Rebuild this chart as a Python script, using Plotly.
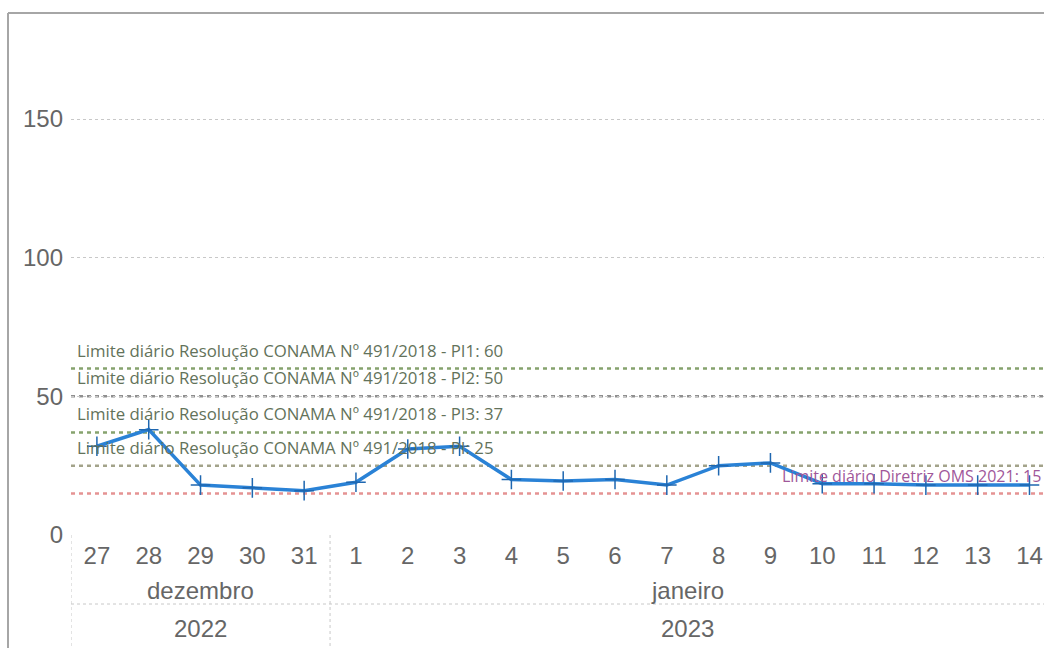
import plotly.graph_objects as go

days = ["27", "28", "29", "30", "31", "1", "2", "3", "4", "5", "6", "7",
        "8", "9", "10", "11", "12", "13", "14"]
months = ["dezembro"] * 5 + ["janeiro"] * 14
years = ["2022"] * 5 + ["2023"] * 14
values = [32, 38, 18, 17, 16, 19, 31, 32, 20, 19.5, 20, 18, 25, 26,
          18.5, 18.5, 18, 18, 18]

ref_values = [60, 50, 37, 25, 15]
ref_colors = ["#86a36e", "#8f8f8f", "#86a36e", "#a3a38a", "#e59393"]
ref_label_colors = ["#63725a", "#63725a", "#63725a", "#63725a", "#a0579a"]
ref_label_side = ["left", "left", "left", "left", "right"]
ref_label_size = [16.8, 16.8, 16.8, 16.8, 16.0]
ref_label_text = ["Limite diário Resolução CONAMA Nº 491/2018 - PI1: 60",
                  "Limite diário Resolução CONAMA Nº 491/2018 - PI2: 50",
                  "Limite diário Resolução CONAMA Nº 491/2018 - PI3: 37",
                  "Limite diário Resolução CONAMA Nº 491/2018 - PI: 25",
                  "Limite diário Diretriz OMS 2021: 15"]

y_ticks = [0, 50, 100, 150]

x_idx = list(range(len(days)))
x_lo, x_hi = -0.5, 18.28
y_lo, y_hi = 0, 185

W, H = 1044, 648
ml, mr, mt, mb = 71, 0, 22, 113
ph = H - mt - mb

def py(pix):
    return (H - mb - pix) / ph

def px(pix):
    return (pix - ml) / (W - ml - mr)

AX_FONT = "Liberation Sans, Arial"
AX_SIZE = 24
AX_COL = "#666666"

fig = go.Figure()

fig.add_trace(go.Scatter(
    x=x_idx, y=values, mode="lines+markers",
    line=dict(color="#2a82d6", width=3.5),
    marker=dict(symbol="cross-thin", size=14,
                line=dict(color="#1f67b0", width=1.5), color="#1f67b0"),
    showlegend=False, hoverinfo="y"))

shapes = []
annotations = []
for v, c, lc, side, sz, txt in zip(ref_values, ref_colors, ref_label_colors,
                                   ref_label_side, ref_label_size, ref_label_text):
    shapes.append(dict(type="line", xref="x", yref="y", x0=x_lo, x1=x_hi,
                       y0=v, y1=v, layer="below",
                       line=dict(color=c, width=2.5, dash="4px,4px")))
    if side == "left":
        annotations.append(dict(xref="x", yref="y", x=x_lo, y=v, text=txt,
                                xanchor="left", yanchor="bottom", xshift=4,
                                yshift=5, showarrow=False,
                                font=dict(family="Open Sans", size=sz, color=lc)))
    else:
        annotations.append(dict(xref="x", yref="y", x=x_hi, y=v, text=txt,
                                xanchor="right", yanchor="bottom", xshift=-1,
                                yshift=4, showarrow=False,
                                font=dict(family="Open Sans", size=sz, color=lc)))

# Hierarchical axis: month and year levels
grid_col = "#c8c8c8"
sep_idx = [i for i in range(1, len(days)) if months[i] != months[i - 1]]
for b in [x_lo] + [i - 0.5 for i in sep_idx]:
    shapes.append(dict(type="line", xref="x", yref="paper", x0=b, x1=b,
                       y0=0, y1=py(H + 5), line=dict(color=grid_col, width=1, dash="dot")))
shapes.append(dict(type="line", xref="x", yref="paper", x0=x_lo, x1=x_hi,
                   y0=py(604), y1=py(604), line=dict(color=grid_col, width=1, dash="dot")))

groups_m = []
start = 0
for i in range(1, len(days) + 1):
    if i == len(days) or months[i] != months[start]:
        groups_m.append((start, i - 1, months[start], years[start]))
        start = i
for a, b, m, yv in groups_m:
    left = max(a - 0.5, x_lo)
    right = min(b + 0.5, x_hi)
    cx = (left + right) / 2
    annotations.append(dict(xref="x", yref="paper", x=cx, y=py(590), text=m,
                            showarrow=False, xanchor="center", yanchor="middle",
                            font=dict(family=AX_FONT, size=AX_SIZE, color=AX_COL)))
    annotations.append(dict(xref="x", yref="paper", x=cx, y=py(628), text=yv,
                            showarrow=False, xanchor="center", yanchor="middle",
                            font=dict(family=AX_FONT, size=AX_SIZE, color=AX_COL)))

# outer frame (visual container border)
shapes.append(dict(type="line", xref="paper", yref="paper",
                   x0=px(8), x1=px(8), y0=py(13), y1=py(H + 5),
                   line=dict(color="#a6a6a6", width=2)))
shapes.append(dict(type="line", xref="paper", yref="paper",
                   x0=px(8), x1=px(W + 5), y0=py(13), y1=py(13),
                   line=dict(color="#a6a6a6", width=2)))

fig.update_layout(
    width=W, height=H,
    margin=dict(l=ml, r=mr, t=mt, b=mb),
    paper_bgcolor="white", plot_bgcolor="white",
    shapes=shapes, annotations=annotations,
    xaxis=dict(range=[x_lo, x_hi], tickmode="array", tickvals=x_idx,
               ticktext=days, showgrid=False, zeroline=False, showline=False,
               ticks="", tickfont=dict(family=AX_FONT, size=AX_SIZE, color=AX_COL),
               ticklabelstandoff=4),
    yaxis=dict(range=[y_lo, y_hi], tickmode="array", tickvals=y_ticks,
               showgrid=True, gridcolor=grid_col, griddash="dot", gridwidth=1,
               zeroline=False, showline=False, ticks="",
               tickfont=dict(family=AX_FONT, size=AX_SIZE, color=AX_COL),
               ticklabelstandoff=7),
    showlegend=False,
)

fig.write_html("out.html", config={"displayModeBar": False},
               post_script="document.body.style.margin='0';document.body.style.overflow='hidden';")
